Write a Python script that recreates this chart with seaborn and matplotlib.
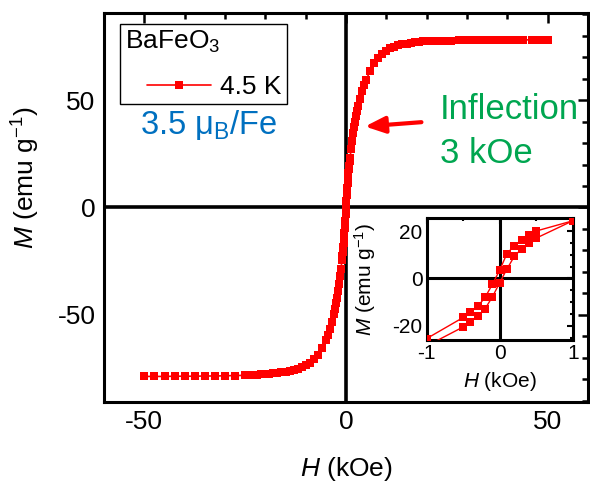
import matplotlib
matplotlib.use("Agg")
import matplotlib.pyplot as plt
import seaborn as sns
from matplotlib.ticker import MultipleLocator, FixedLocator
from matplotlib.legend_handler import HandlerLine2D

# ---------------- data ----------------
h_main = [-50, -47.5, -45, -42.5, -40, -37.5, -35, -32.5, -30, -27.5, -25,
          -24, -23, -22, -21, -20, -19, -18, -17, -16, -15, -14, -13, -12, -11,
          -10, -9, -8, -7, -6, -5, -4.5, -4, -3.5,
          -3, -2.75, -2.5, -2.25, -2, -1.75, -1.5, -1.25,
          -1, -0.9, -0.8, -0.7, -0.6, -0.5, -0.4, -0.3, -0.2, -0.1, 0,
          0.1, 0.2, 0.3, 0.4, 0.5, 0.6, 0.7, 0.8, 0.9, 1,
          1.25, 1.5, 1.75, 2, 2.25, 2.5, 2.75, 3, 3.5,
          4, 4.5, 5, 6, 7, 8, 9, 10, 11, 12, 13, 14, 15, 16, 17, 18, 19, 20, 21, 22,
          24, 26, 28, 30, 32, 34, 36, 38, 40, 42, 44, 46, 48, 50]
m_main = [-78.6, -78.6, -78.6, -78.5, -78.5, -78.5, -78.4, -78.4, -78.3, -78.2, -78.1,
          -78.0, -77.9, -77.8, -77.7, -77.6, -77.4, -77.2, -77.0, -76.7, -76.4, -76.0,
          -75.5, -75.0, -74.2, -73.4, -72.3, -70.6, -68.4, -65.5, -61.5, -59.2, -56.5, -53.3,
          -49.5, -47.0, -44.5, -42.0, -39.0, -35.5, -32.0, -28.5,
          -24.5, -22.5, -20.5, -18.5, -16.5, -14.5, -12.0, -9.5, -6.5, -3.2, 0.0,
          3.0, 6.0, 9.0, 11.5, 14.0, 16.0, 18.0, 19.5, 21.5, 23.0,
          27.0, 31.0, 34.5, 37.5, 40.0, 42.5, 45.0, 47.0, 50.7,
          54.0, 57.0, 59.5, 63.5, 67.0, 69.5, 71.5, 73.0, 74.0, 74.8, 75.4, 75.9, 76.3,
          76.6, 76.9, 77.1, 77.3, 77.4, 77.5, 77.6,
          77.7, 77.7, 77.8, 77.8, 77.8, 77.9, 77.9, 77.9, 77.9, 78.0, 78.0, 78.0, 78.0, 78.0]

# low-field loop (inset): field sweep down, then up
h_sweep_down = [1.5, 1.0, 0.5, 0.4, 0.3, 0.2, 0.1, 0.0, -0.1, -0.2, -0.3, -0.4, -0.5, -1.0, -1.5]
m_sweep_down = [33.0, 24.3, 20.0, 18.3, 16.3, 13.8, 10.5, 3.5, -2.5, -8.0, -11.8, -14.0, -16.5, -25.4, -34.0]
h_sweep_up = [-1.5, -1.0, -0.5, -0.4, -0.3, -0.2, -0.1, 0.0, 0.1, 0.2, 0.3, 0.4, 0.5, 1.0, 1.5]
m_sweep_up = [-35.0, -28.5, -20.5, -18.3, -16.0, -12.8, -7.8, -1.8, 4.0, 9.3, 12.5, 15.0, 17.0, 24.3, 33.0]

series_label = "4.5 K"
legend_title = "BaFeO$_3$"
moment_text = "3.5 μ$_\\mathrm{B}$/Fe"
inflection_text = ["Inflection", "3 kOe"]
main_xticks = [-50, 0, 50]
main_yticks = [-50, 0, 50]
inset_xticks = [-1, 0, 1]
inset_yticks = [-20, 0, 20]

# ---------------- style ----------------
sns.set_theme(style="white")
plt.rcParams.update({
    "font.family": ["Liberation Sans", "DejaVu Sans"],
    "mathtext.fontset": "custom",
    "mathtext.rm": "Liberation Sans",
    "mathtext.it": "Liberation Sans:italic",
    "mathtext.bf": "Liberation Sans:bold",
    "axes.unicode_minus": False,
    "text.color": "black",
    "axes.labelcolor": "black",
    "xtick.color": "black",
    "ytick.color": "black",
})

RED = "#FF0000"
fig = plt.figure(figsize=(5.9, 4.83), dpi=100)
ax = fig.add_axes([0.1763, 0.1677, 0.8203, 0.8054])

ax.axhline(0, color="black", lw=2.6, zorder=1)
ax.axvline(0, color="black", lw=2.6, zorder=1)

sns.lineplot(x=h_main, y=m_main, sort=False, estimator=None, errorbar=None,
             color=RED, marker="s", markersize=5.4, markeredgewidth=0,
             linewidth=1.2, ax=ax, legend=False, zorder=3)
main_line = ax.lines[-1]

ax.set_xlim(-60, 60)
ax.set_ylim(-90.5, 90.5)
ax.xaxis.set_major_locator(FixedLocator(main_xticks))
ax.yaxis.set_major_locator(FixedLocator(main_yticks))
ax.xaxis.set_minor_locator(MultipleLocator(10))
ax.yaxis.set_minor_locator(MultipleLocator(10))
ax.tick_params(which="both", direction="in", top=True, right=True, width=1.8,
               labelsize=19)
ax.tick_params(which="major", length=7, pad=6)
ax.tick_params(which="minor", length=4)
for s in ax.spines.values():
    s.set_linewidth(2.2)
    s.set_color("black")

ax.set_xlabel("$H$ (kOe)", fontsize=19)
ax.set_ylabel("$M$ (emu g$^{-1}$)", fontsize=19)
ax.xaxis.set_label_coords(0.5, -0.135)
ax.yaxis.set_label_coords(-0.128, 0.577)

leg = ax.legend(handles=[main_line], labels=[series_label], title=legend_title,
                loc="upper left", bbox_to_anchor=(0.033, 0.972), borderaxespad=0,
                fontsize=19, title_fontsize=19, alignment="left", frameon=True,
                fancybox=False, edgecolor="black", framealpha=1,
                handlelength=3.26, handletextpad=0.34, borderpad=0.2,
                labelspacing=0.75,
                handler_map={main_line: HandlerLine2D(xpad=0.83, numpoints=1)})
leg.get_frame().set_linewidth(1.0)

ax.text(-51, 34.4, moment_text, color="#0070C0", fontsize=23.5, va="baseline", ha="left")
ax.text(23.3, 41.4, inflection_text[0], color="#00A650", fontsize=25, va="baseline", ha="left")
ax.text(23.3, 20.5, inflection_text[1], color="#00A650", fontsize=25, va="baseline", ha="left")
ax.annotate("", xy=(4.7, 37.7), xytext=(18.7, 39.7),
            arrowprops=dict(arrowstyle="-|>,head_length=0.6,head_width=0.25",
                            color=RED, lw=3, mutation_scale=20, shrinkA=0, shrinkB=0))

# ---------------- inset ----------------
axin = fig.add_axes([0.7232, 0.2961, 0.2475, 0.2526])
axin.axhline(0, color="black", lw=2.2, zorder=1)
axin.axvline(0, color="black", lw=2.2, zorder=1)
sns.lineplot(x=h_sweep_down, y=m_sweep_down, sort=False, estimator=None, errorbar=None,
             color=RED, marker="s", markersize=6, markeredgewidth=0, linewidth=1.0,
             ax=axin, legend=False, zorder=3)
sns.lineplot(x=h_sweep_up, y=m_sweep_up, sort=False, estimator=None, errorbar=None,
             color=RED, marker="s", markersize=6, markeredgewidth=0, linewidth=1.0,
             ax=axin, legend=False, zorder=3)
axin.set_xlim(-1, 1)
axin.set_ylim(-26, 25.5)
axin.xaxis.set_major_locator(FixedLocator(inset_xticks))
axin.yaxis.set_major_locator(FixedLocator(inset_yticks))
axin.xaxis.set_minor_locator(MultipleLocator(0.5))
axin.yaxis.set_minor_locator(MultipleLocator(5))
axin.tick_params(which="both", direction="in", top=True, right=True, width=1.5,
                 labelsize=15)
axin.tick_params(which="major", length=4.5, pad=3)
axin.tick_params(which="minor", length=2.5)
for s in axin.spines.values():
    s.set_linewidth(2.2)
    s.set_color("black")
axin.set_xlabel("$H$ (kOe)", fontsize=15)
axin.set_ylabel("$M$ (emu g$^{-1}$)", fontsize=15)
axin.xaxis.set_label_coords(0.5, -0.25)
axin.yaxis.set_label_coords(-0.333, 0.5)

fig.savefig("out.png", dpi=100)
